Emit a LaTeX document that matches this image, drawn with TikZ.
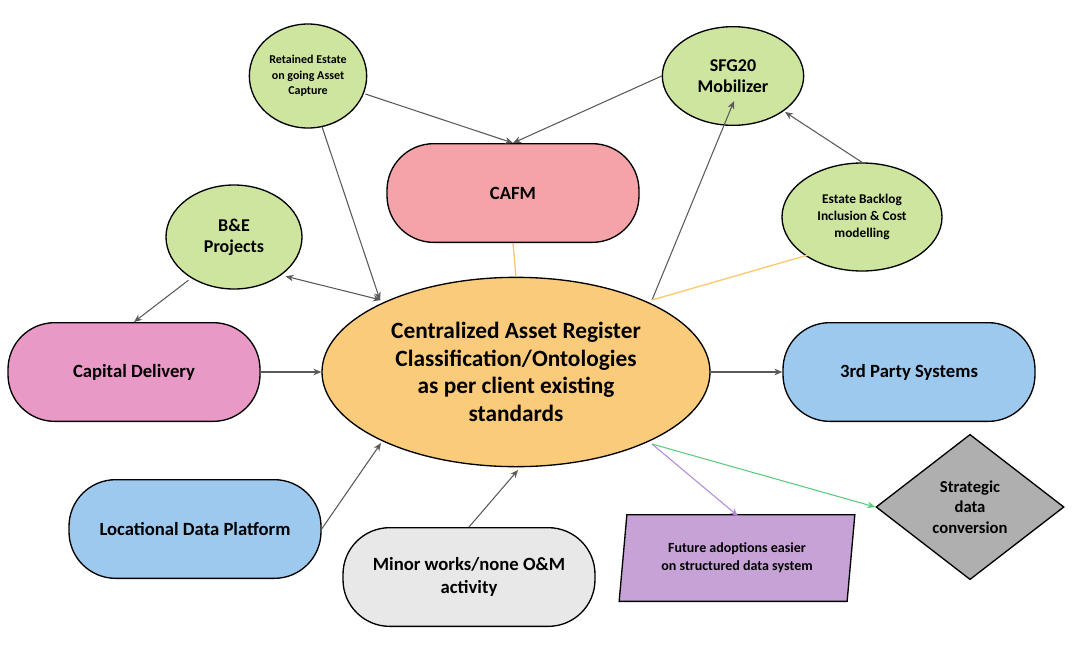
\documentclass[tikz,border=0pt]{standalone}
\usepackage{fontspec}
\setmainfont{Carlito}
\usetikzlibrary{shapes.geometric,arrows.meta}
\definecolor{cOrange}{HTML}{FBCB7C}
\definecolor{cGreen}{HTML}{CDE59E}
\definecolor{cRed}{HTML}{F4A3A8}
\definecolor{cPink}{HTML}{E899C5}
\definecolor{cBlue}{HTML}{9DC9EE}
\definecolor{cGray}{HTML}{E8E8E8}
\definecolor{cPurple}{HTML}{C6A2D6}
\definecolor{cDia}{HTML}{AFAFAF}
\definecolor{cLine}{HTML}{5A5A5A}
\definecolor{cOL}{HTML}{FBC96E}
\definecolor{cPL}{HTML}{B38AD6}
\definecolor{cGL}{HTML}{5CCB7E}
\begin{document}
\begin{tikzpicture}[x=0.75pt,y=-0.75pt,
  base/.style={draw=black,line width=1pt,font=\bfseries,align=center,inner sep=0pt},
  ell/.style={base,ellipse,fill=cGreen},
  box/.style={base,rounded corners=35pt,minimum width=189pt,minimum height=74pt},
  arr/.style={draw=cLine,line width=0.8pt,-{Stealth[length=6pt,width=5pt]}}]
\useasboundingbox (0,0) rectangle (1078,644);
\node[base,ellipse,fill=cOrange,minimum width=291pt,minimum height=142pt,font=\bfseries\fontsize{17.5}{20.6}\selectfont] (c) at (516,372)
  {Centralized Asset Register\\Classification/Ontologies\\as per client existing\\standards};
\node[box,fill=cRed,font=\bfseries\fontsize{14}{16}\selectfont] (cafm) at (513,193) {CAFM};
\node[ell,minimum width=88pt,minimum height=78pt,font=\bfseries\fontsize{9}{11.5}\selectfont] (ret) at (308,76) {Retained Estate\\on going Asset\\Capture};
\node[ell,minimum width=106pt,minimum height=74pt,font=\bfseries\fontsize{13.5}{16}\selectfont] (sfg) at (733,76) {SFG20\\Mobilizer};
\node[ell,minimum width=120pt,minimum height=81pt,font=\bfseries\fontsize{10}{12.5}\selectfont] (est) at (862,217) {Estate Backlog\\Inclusion \& Cost\\modelling};
\node[ell,minimum width=102pt,minimum height=78pt,font=\bfseries\fontsize{13.5}{16}\selectfont] (be) at (234,237) {B\&E\\Projects};
\node[box,fill=cPink,font=\bfseries\fontsize{14}{16}\selectfont] (cap) at (134,372) {Capital Delivery};
\node[box,fill=cBlue,font=\bfseries\fontsize{14}{16}\selectfont] (trd) at (909,372) {3rd Party Systems};
\node[box,fill=cBlue,font=\bfseries\fontsize{14}{16}\selectfont] (loc) at (195,529) {Locational Data Platform};
\node[box,fill=cGray,font=\bfseries\fontsize{14}{17.5}\selectfont] (min) at (469,577) {Minor works/none O\&M\\activity};
\node[base,trapezium,trapezium left angle=80,trapezium right angle=100,fill=cPurple,minimum width=177pt,minimum height=65pt,trapezium stretches=true,font=\bfseries\fontsize{10.5}{13.5}\selectfont] (fut) at (737,558) {Future adoptions easier\\on structured data system};
\node[base,diamond,fill=cDia,minimum width=141pt,minimum height=109pt,font=\bfseries\fontsize{12.5}{15.5}\selectfont] (str) at (970,507) {Strategic\\data\\conversion};
\draw[arr] (ret.east) ++(-2,18) -- (cafm.north);
\draw[arr] (sfg.west) -- (cafm.north);
\draw[arr] (ret.south) ++(14,-2) -- (380,300);
\draw[arr,{Stealth[length=6pt,width=5pt]}-{Stealth[length=6pt,width=5pt]}] (be.south east) ++(3,2) -- (381,300);
\draw[arr] (be.south west) ++(3,6) -- (cap.north);
\draw[arr] (cap.east) -- (c.west);
\draw[arr] (c.east) -- (trd.west);
\draw[arr] (652,300) -- (734,101);
\draw[arr] (est.north) -- (785,112);
\draw[draw=cOL,line width=1pt] (cafm.south) -- (c.north);
\draw[draw=cOL,line width=1pt] (808,255) -- (652,300);
\draw[arr] (loc.east) -- (381,443);
\draw[arr] (min.north) -- (518,470);
\draw[arr,draw=cPL] (652,444) -- (738,516);
\draw[arr,draw=cGL] (652,444) -- (str.west);
\end{tikzpicture}
\end{document}
